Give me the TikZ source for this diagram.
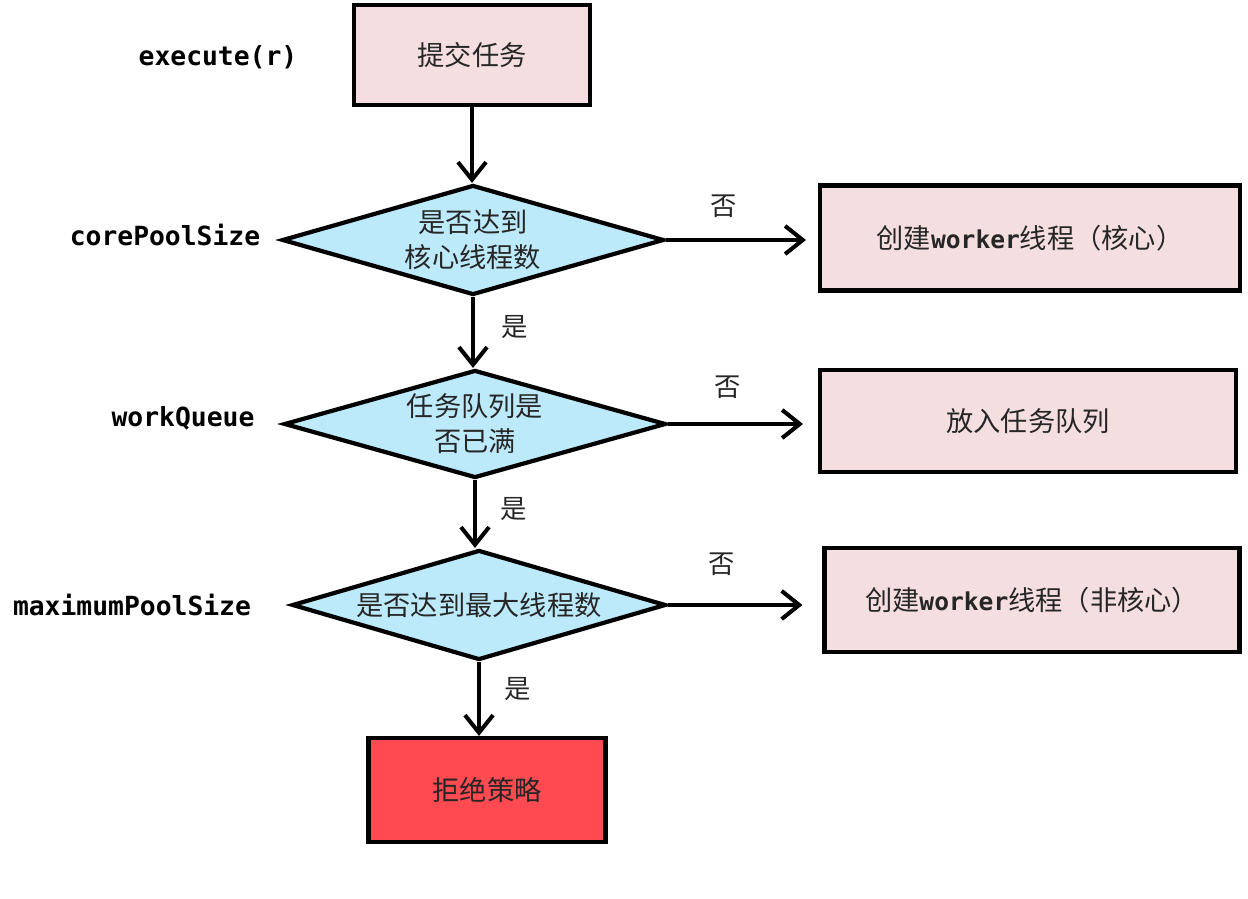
\documentclass[tikz,border=0pt]{standalone}
\usepackage{fontspec}
\newfontfamily\cjk{Noto Sans CJK SC}
\newfontfamily\mono{DejaVu Sans Mono}
\usetikzlibrary{shapes.geometric,arrows.meta}
\definecolor{boxpink}{HTML}{F4DEDF}
\definecolor{diablue}{HTML}{BDEAFA}
\definecolor{rejred}{HTML}{FF4A52}
\tikzset{
  procbox/.style={draw=black, line width=2.4pt, fill=boxpink, inner sep=0pt,
    font=\cjk\fontsize{15.5}{18}\selectfont, text=black!85},
  decision/.style={diamond, aspect=3.47, draw=black, line width=2.4pt, fill=diablue, inner sep=0pt,
    align=center, font=\cjk\fontsize{15.5}{20}\selectfont, text=black!85},
  sidelabel/.style={font=\mono\bfseries\fontsize{15}{18}\selectfont, text=black},
  edgelabel/.style={font=\cjk\fontsize{15}{16}\selectfont, text=black!85},
  arr/.style={draw=black, line width=2.3pt, -{Straight Barb[length=10pt,width=16pt,line width=2.3pt]}},
}
\newcommand{\wk}{{\mono\bfseries\fontsize{14}{16}\selectfont worker}}
\begin{document}
\begin{tikzpicture}[x=0.02cm,y=-0.02cm]
\useasboundingbox[fill=white] (0,0) rectangle (1248,899);

% main column
\node[procbox, minimum width=4.72cm, minimum height=2.0cm] (submit) at (472,55) {提交任务};
\node[decision, minimum width=7.64cm, minimum height=2.2cm] (d1) at (473,240) {是否达到\\核心线程数};
\node[decision, minimum width=7.64cm, minimum height=2.16cm] (d2) at (475,424) {任务队列是\\否已满};
\node[decision, minimum width=7.48cm, minimum height=2.2cm] (d3) at (479,605) {是否达到最大线程数};
\node[procbox, fill=rejred, minimum width=4.74cm, minimum height=2.08cm] (reject) at (487,790) {拒绝策略};

% right column
\node[procbox, minimum width=8.4cm, minimum height=2.1cm] (core) at (1030,238) {创建\wk 线程（核心）};
\node[procbox, minimum width=8.32cm, minimum height=2.04cm] (queue) at (1028,421) {放入任务队列};
\node[procbox, minimum width=8.3cm, minimum height=2.08cm] (noncore) at (1032,600) {创建\wk 线程（非核心）};

% left labels
\node[sidelabel] (lexec) at (218,57) {execute(r)};
\node[sidelabel] (lcore) at (165,235) {corePoolSize};
\node[sidelabel] (lqueue) at (183,418) {workQueue};
\node[sidelabel] (lmax) at (132,605) {maximumPoolSize};

% connectors
\draw[arr] (submit.south) -- (submit.south |- d1.north);
\draw[arr] (d1.south) -- node[edgelabel, right=12pt, pos=0.42] (y1) {是} (d1.south |- d2.north);
\draw[arr] (d2.south) -- node[edgelabel, right=10pt, pos=0.42] (y2) {是} (d2.south |- d3.north);
\draw[arr] (d3.south) -- node[edgelabel, right=10pt, pos=0.36] (y3) {是} (d3.south |- reject.north);

\draw[arr, shorten >=0.24cm] (d1.east) -- node[edgelabel, above=8pt, pos=0.38] (n1) {否} (d1.east -| core.west);
\draw[arr, shorten >=0.3cm] (d2.east) -- node[edgelabel, above=10pt, pos=0.4] (n2) {否} (d2.east -| queue.west);
\draw[arr, shorten >=0.4cm] (d3.east) -- node[edgelabel, above=12pt, pos=0.35] (n3) {否} (d3.east -| noncore.west);
\end{tikzpicture}
\end{document}
